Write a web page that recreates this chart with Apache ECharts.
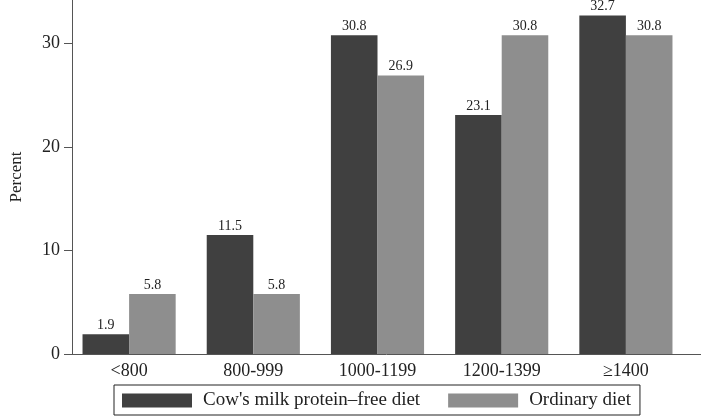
<!DOCTYPE html>
<html>
<head>
<meta charset="utf-8">
<script src="https://cdn.jsdelivr.net/npm/echarts@6/dist/echarts.min.js"></script>
<style>
  html, body { margin: 0; padding: 0; background: #fff; }
  #chart { width: 701px; height: 416px; }
</style>
</head>
<body>
<div id="chart"></div>
<script>
// data
const categories = ['<800', '800-999', '1000-1199', '1200-1399', '\u22651400'];
const cowMilkFree = [1.9, 11.5, 30.8, 23.1, 32.7];
const ordinary = [5.8, 5.8, 26.9, 30.8, 30.8];
const yTicks = [0, 10, 20, 30];

const serif = 'Liberation Serif';
const chart = echarts.init(document.getElementById('chart'));

const valueLabel = {
    show: true,
    position: 'top',
    distance: 2,
    fontFamily: serif,
    fontSize: 14,
    color: '#222',
    formatter: p => p.value.toFixed(1)
};

const option = {
    animation: false,
    // grid 0 carries the y axis and the full width baseline, grid 1 the bars
    grid: [
        { left: 55, right: 0, top: 0, height: 354 },
        { left: 67, width: 621, top: 0, height: 354 }
    ],
    xAxis: [
        {
            gridIndex: 0, type: 'value', min: 0, max: 1,
            axisLine: { show: true, onZero: false, lineStyle: { color: '#555', width: 1 } },
            axisTick: { show: false }, axisLabel: { show: false }, splitLine: { show: false }
        },
        {
            gridIndex: 1, type: 'category', data: categories,
            axisLine: { show: false }, axisTick: { show: false },
            axisLabel: { fontFamily: serif, fontSize: 18, color: '#222', margin: 8 }
        }
    ],
    yAxis: [
        {
            gridIndex: 0, type: 'value', min: 0, max: 34.2, interval: 10,
            name: 'Percent', nameLocation: 'middle', nameGap: 47,
            nameTextStyle: { fontFamily: serif, fontSize: 17, color: '#222' },
            axisLine: { show: true, lineStyle: { color: '#555', width: 1 } },
            axisTick: { show: true, length: 8, lineStyle: { color: '#555' } },
            axisLabel: {
                fontFamily: serif, fontSize: 18, color: '#222', margin: 12,
                showMaxLabel: false,
                formatter: v => yTicks.includes(v) ? String(v) : ''
            },
            splitLine: { show: false }
        },
        {
            gridIndex: 1, type: 'value', min: 0, max: 34.2, show: false
        }
    ],
    legend: {
        left: 114,
        top: 385,
        padding: [6, 9, 5, 8],
        borderColor: '#222',
        borderWidth: 1,
        itemWidth: 70,
        itemHeight: 14,
        itemGap: 28,
        icon: 'rect',
        textStyle: { fontFamily: serif, fontSize: 19, lineHeight: 18, color: '#222', padding: [0, 0, 0, 6] },
        data: ["Cow's milk protein\u2013free diet", 'Ordinary diet']
    },
    series: [
        {
            name: "Cow's milk protein\u2013free diet",
            type: 'bar',
            xAxisIndex: 1, yAxisIndex: 1,
            data: cowMilkFree,
            barGap: '0%',
            barCategoryGap: '25%',
            itemStyle: { color: '#404040' },
            label: valueLabel
        },
        {
            name: 'Ordinary diet',
            type: 'bar',
            xAxisIndex: 1, yAxisIndex: 1,
            data: ordinary,
            itemStyle: { color: '#8e8e8e' },
            label: valueLabel
        }
    ]
};

chart.setOption(option);
</script>
</body>
</html>
